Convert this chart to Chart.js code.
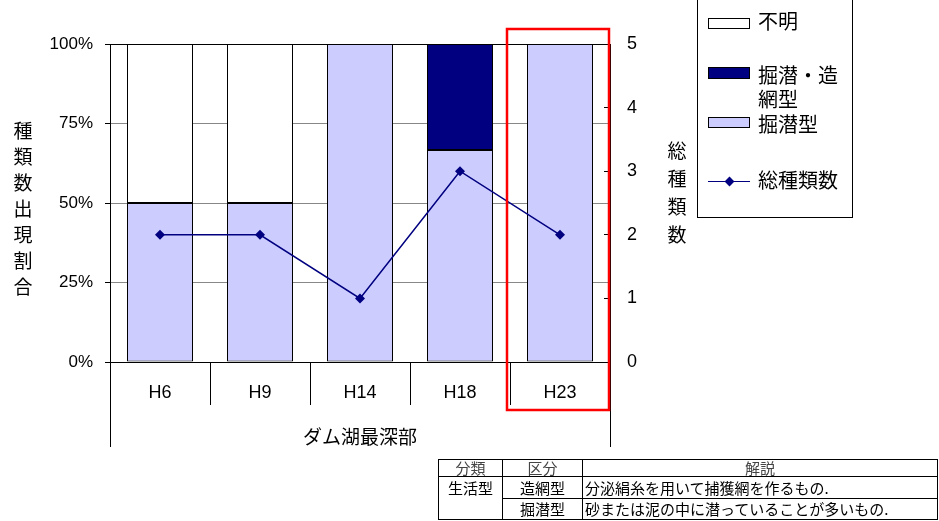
<!DOCTYPE html>
<html lang="ja">
<head>
<meta charset="utf-8">
<title>ダム湖最深部 生活型別種類数</title>
<script src="https://cdn.jsdelivr.net/npm/chart.js@4.4.1/dist/chart.umd.min.js"></script>
<style>
  body { margin: 0; background: #fff; font-family: "Noto Sans CJK JP", sans-serif; color: #000; }
  #wrap { position: relative; width: 939px; height: 521px; overflow: hidden; }
  #chart { position: absolute; left: 0; top: 0; }

  .vtitle { position: absolute; width: 20px; font-size: 19px; line-height: 26px; text-align: center; word-break: break-all; }
  #ytitle { left: 13px; top: 117px; }
  #y1title { left: 667px; top: 136px; line-height: 28px; }

  #legend { position: absolute; left: 697px; top: -1px; width: 156px; height: 219px; border: 1px solid #000; box-sizing: border-box; }
  #legend .sw { position: absolute; left: 10px; width: 42px; border: 1px solid #000; box-sizing: border-box; }
  #legend .tx { position: absolute; left: 60px; font-size: 20px; line-height: 24px; white-space: nowrap; }
  #legend .ln { position: absolute; left: 10px; top: 181px; width: 42px; height: 0; border-top: 1.5px solid #000080; }
  #legend .dm { position: absolute; left: 28px; top: 178px; width: 7px; height: 7px; background: #000080; transform: rotate(45deg); }

  #notes { position: absolute; left: 438px; top: 459px; border-collapse: collapse; font-size: 15px; }
  #notes td, #notes th { border: 1px solid #000; padding: 0 2px; line-height: 16px; font-weight: normal; white-space: nowrap; }
  #notes th { color: #444; height: 16px; }
  #notes .c { text-align: center; }
  #notes .top { vertical-align: top; text-align: center; padding-top: 3px; }
  #notes tr.r1 td { height: 21px; }
  #notes tr.r2 td { height: 20px; }
</style>
</head>
<body>
<div id="wrap">
  <canvas id="chart" width="939" height="521"></canvas>

  <div id="ytitle" class="vtitle">種類数出現割合</div>
  <div id="y1title" class="vtitle">総種類数</div>

  <div id="legend">
    <div class="sw" style="top:18px;height:11px;background:#fff"></div>
    <div class="tx" style="top:9px">不明</div>
    <div class="sw" style="top:67px;height:12px;background:#000080"></div>
    <div class="tx" style="top:63px">掘潜・造<br>網型</div>
    <div class="sw" style="top:117px;height:11px;background:#ccccff"></div>
    <div class="tx" style="top:112px">掘潜型</div>
    <div class="ln"></div>
    <div class="dm"></div>
    <div class="tx" style="top:168px">総種類数</div>
  </div>

  <table id="notes">
    <colgroup><col style="width:64px"><col style="width:80px"><col style="width:355px"></colgroup>
    <tr><th>分類</th><th>区分</th><th>解説</th></tr>
    <tr class="r1"><td rowspan="2" class="top">生活型</td><td class="c">造網型</td><td>分泌絹糸を用いて捕獲網を作るもの.</td></tr>
    <tr class="r2"><td class="c">掘潜型</td><td>砂または泥の中に潜っていることが多いもの.</td></tr>
  </table>
</div>

<script>
// 調査年
const categories = ["H6", "H9", "H14", "H18", "H23"];

// 生活型別の種類数出現割合 (%)
const shareBurrowing = [50, 50, 100, 66.7, 100];         // 掘潜型
const shareBurrowNet = [null, null, null, 33.3, null];   // 掘潜・造網型
const shareUnknown = [50, 50, null, null, null];         // 不明

// 総種類数
const totalSpecies = [2, 2, 1, 3, 2];

// 枠で囲む年
const highlightYear = "H23";

Chart.defaults.font.family = '"Liberation Sans", Arial, sans-serif';
Chart.defaults.font.size = 16;
Chart.defaults.color = "#000";

// 右軸の内向き目盛、地点名の区切り線、赤枠
const frameLines = {
    id: "frameLines",
    afterDraw(chart) {
        const { ctx, chartArea: a, scales: { x, y1 } } = chart;
        const px = v => Math.floor(v) + 0.5;

        ctx.save();
        ctx.strokeStyle = "#000";
        ctx.lineWidth = 1;

        y1.ticks.forEach(t => {
            const py = px(y1.getPixelForValue(t.value));
            ctx.beginPath();
            ctx.moveTo(a.right - 6, py);
            ctx.lineTo(a.right, py);
            ctx.stroke();
        });

        [a.left, a.right].forEach(lx => {
            ctx.beginPath();
            ctx.moveTo(px(lx), a.bottom);
            ctx.lineTo(px(lx), a.bottom + 85);
            ctx.stroke();
        });

        const i = categories.indexOf(highlightYear);
        const cx = x.getPixelForValue(i);
        const w = (a.right - a.left) / categories.length;
        ctx.strokeStyle = "#ff0000";
        ctx.lineWidth = 2.5;
        ctx.strokeRect(cx - w * 0.53, a.top - 15, w * 1.02, a.bottom - a.top + 63);
        ctx.restore();
    }
};

const barStyle = {
    type: "bar",
    yAxisID: "y",
    borderColor: "#000",
    borderWidth: 1,
    borderSkipped: false,
    barPercentage: 0.66,
    categoryPercentage: 1,
    order: 1
};

new Chart(document.getElementById("chart"), {
    data: {
        labels: categories,
        datasets: [
            { ...barStyle, label: "掘潜型", data: shareBurrowing, backgroundColor: "#ccccff" },
            { ...barStyle, label: "掘潜・造網型", data: shareBurrowNet, backgroundColor: "#000080" },
            { ...barStyle, label: "不明", data: shareUnknown, backgroundColor: "#ffffff" },
            {
                type: "line",
                label: "総種類数",
                data: totalSpecies,
                yAxisID: "y1",
                borderColor: "#000080",
                backgroundColor: "#000080",
                borderWidth: 1.5,
                pointStyle: "rectRot",
                pointRadius: 5,
                pointBorderWidth: 0,
                order: 0
            }
        ]
    },
    options: {
        responsive: false,
        animation: false,
        layout: { padding: { top: 44, left: 0, right: 0, bottom: 0 } },
        plugins: {
            legend: { display: false },
            tooltip: { enabled: false }
        },
        scales: {
            x: {
                stacked: true,
                offset: true,
                grid: {
                    offset: true,
                    drawOnChartArea: false,
                    tickLength: 43,
                    color: "#000"
                },
                border: { display: true, color: "#000" },
                ticks: { padding: -23, font: { size: 18 } },
                title: {
                    display: true,
                    text: "ダム湖最深部",
                    font: { family: '"Noto Sans CJK JP", sans-serif', size: 19 },
                    padding: { top: 0, bottom: 73 }
                },
                afterFit(scale) { scale.height = 159; }
            },
            y: {
                stacked: true,
                min: 0,
                max: 100,
                ticks: {
                    stepSize: 25,
                    padding: 12,
                    font: { size: 17 },
                    callback: v => v + "%"
                },
                grid: {
                    color: c => c.tick.value === 100 ? "#000" : "#888",
                    tickColor: "#000",
                    tickLength: 5
                },
                border: { display: true, color: "#000" },
                afterFit(scale) { scale.width = 110; }
            },
            y1: {
                position: "right",
                min: 0,
                max: 5,
                ticks: { stepSize: 1, padding: 17, font: { size: 18 } },
                grid: { drawOnChartArea: false, drawTicks: false },
                border: { display: true, color: "#000" },
                afterFit(scale) { scale.width = 329; }
            }
        }
    },
    plugins: [frameLines]
});
</script>
</body>
</html>
